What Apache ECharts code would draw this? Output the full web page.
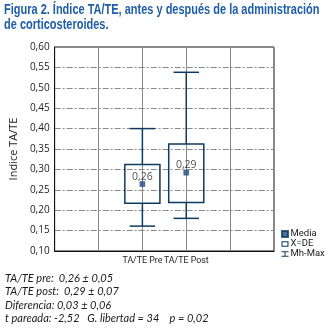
<!DOCTYPE html>
<html>
<head>
<meta charset="utf-8">
<script src="https://cdn.jsdelivr.net/npm/echarts@6/dist/echarts.min.js"></script>
<style>
  html, body { margin: 0; padding: 0; background: #fff; }
  #main { width: 328px; height: 336px; }
</style>
</head>
<body>
<div id="main"></div>
<script>
    // eje x: 6 posiciones, los grupos van en la 2 y la 3
    var categories = ['', '', 'TA/TE Pre', 'TA/TE Post', '', ''];
    var groupPos = ['TA/TE Pre', 'TA/TE Post'];
    // media, media-DE, media+DE, minimo, maximo
    var means = [0.264, 0.292];
    var sdLow = [0.217, 0.219];
    var sdHigh = [0.312, 0.362];
    var mins = [0.161, 0.180];
    var maxs = [0.400, 0.538];
    var meanLabels = ['0,26', '0,29'];

    var navy = '#0d3a5e';
    var boxData = [], whiskerData = [], meanData = [];
    for (var i = 0; i < groupPos.length; i++) {
        boxData.push([groupPos[i], sdLow[i], sdHigh[i]]);
        whiskerData.push([groupPos[i], mins[i], maxs[i], sdLow[i], sdHigh[i]]);
        meanData.push({value: [groupPos[i], means[i]], label: {formatter: meanLabels[i]}});
    }

    var chart = echarts.init(document.getElementById('main'));
    chart.setOption({
        animation: false,
        grid: {
            left: 43, top: 47, right: 54, bottom: 85,
            show: true, borderColor: '#111', borderWidth: 1
        },
        legend: {
            orient: 'vertical', left: 281, top: 229, itemGap: 0, padding: 0,
            itemWidth: 7, itemHeight: 6,
            textStyle: {fontSize: 9.5, color: '#222', padding: [0, 0, 0, -3], fontFamily: 'Roboto, sans-serif'},
            data: [
                {name: 'Media', icon: 'path://M2,1H8V7H2Z'},
                {name: 'X=DE', icon: 'path://M0,0H10V8H0Z M1.5,1.5V6.5H8.5V1.5Z'},
                {name: 'Mh-Max', icon: 'path://M0,0H10V1.4H5.7V6.6H10V8H0V6.6H4.3V1.4H0Z'}
            ]
        },
        xAxis: {
            type: 'category', data: categories, boundaryGap: false,
            axisLine: {show: true, lineStyle: {color: '#111'}},
            axisTick: {show: false},
            axisLabel: {
                color: '#222', fontSize: 8.8, margin: 5,
                fontFamily: 'Roboto, sans-serif',
                interval: 0
            },
            splitLine: {show: true, lineStyle: {color: '#8a8a8a', width: 1}}
        },
        yAxis: {
            type: 'value', min: 0.1, max: 0.6, interval: 0.05,
            name: 'Indice TA/TE', nameLocation: 'middle', nameGap: 27,
            nameTextStyle: {fontSize: 11, color: '#222', fontFamily: '"Open Sans", sans-serif'},
            axisLine: {show: true, lineStyle: {color: '#111'}},
            axisTick: {show: false},
            axisLabel: {
                color: '#222', fontSize: 10, margin: 5,
                fontFamily: '"Open Sans", sans-serif',
                formatter: function (v) { return v.toFixed(2).replace('.', ','); }
            },
            splitLine: {show: true, lineStyle: {color: '#8a8a8a', width: 1, type: [6, 2, 2, 2]}}
        },
        series: [
            {
                name: 'Mh-Max', type: 'custom', color: navy,
                data: whiskerData,
                renderItem: function (params, api) {
                    var x = api.coord([api.value(0), 0])[0];
                    var pMin = api.coord([api.value(0), api.value(1)])[1];
                    var pMax = api.coord([api.value(0), api.value(2)])[1];
                    var pLow = api.coord([api.value(0), api.value(3)])[1];
                    var pHigh = api.coord([api.value(0), api.value(4)])[1];
                    var half = api.size([1, 0])[0] * 0.29;
                    var st = {stroke: navy, lineWidth: 1.5};
                    return {
                        type: 'group',
                        children: [
                            {type: 'line', shape: {x1: x, y1: pHigh, x2: x, y2: pMax}, style: st},
                            {type: 'line', shape: {x1: x, y1: pLow, x2: x, y2: pMin}, style: st},
                            {type: 'line', shape: {x1: x - half, y1: pMax, x2: x + half, y2: pMax}, style: st},
                            {type: 'line', shape: {x1: x - half, y1: pMin, x2: x + half, y2: pMin}, style: st}
                        ]
                    };
                }
            },
            {
                name: 'X=DE', type: 'custom', color: navy,
                data: boxData,
                renderItem: function (params, api) {
                    var lo = api.coord([api.value(0), api.value(1)]);
                    var hi = api.coord([api.value(0), api.value(2)]);
                    var half = api.size([1, 0])[0] * 0.4;
                    return {
                        type: 'rect',
                        shape: {x: lo[0] - half, y: hi[1], width: half * 2, height: lo[1] - hi[1]},
                        style: {fill: 'none', stroke: navy, lineWidth: 1.5}
                    };
                }
            },
            {
                name: 'Media', type: 'scatter', symbol: 'rect', symbolSize: 5, color: '#1d4f86',
                itemStyle: {color: '#1d4f86', borderColor: navy, borderWidth: 0.5},
                data: meanData,
                label: {
                    show: true, position: 'top', distance: -1,
                    fontSize: 10.5, color: '#222', fontFamily: '"Open Sans", sans-serif'
                },
                z: 5
            }
        ],
        graphic: [
            {
                // titulo en fuente condensada
                type: 'text', left: 4, top: 3, scaleX: 0.785,
                style: {
                    text: 'Figura 2. Índice TA/TE, antes y después de la administración\nde corticosteroides.',
                    font: 'bold 14px "Liberation Sans", Arial, sans-serif',
                    lineHeight: 14.5, fill: '#1f5ea8'
                }
            },
            {
                type: 'text', left: 5, top: 272,
                style: {
                    text: 'TA/TE pre:  0,26 ± 0,05\nTA/TE post:  0,29 ± 0,07\nDiferencia: 0,03 ± 0,06\nt pareada: -2,52   G. libertad = 34    p = 0,02',
                    font: 'italic 11px Lato, sans-serif',
                    lineHeight: 13.3, fill: '#1a1a1a'
                }
            }
        ]
    });
</script>
</body>
</html>
